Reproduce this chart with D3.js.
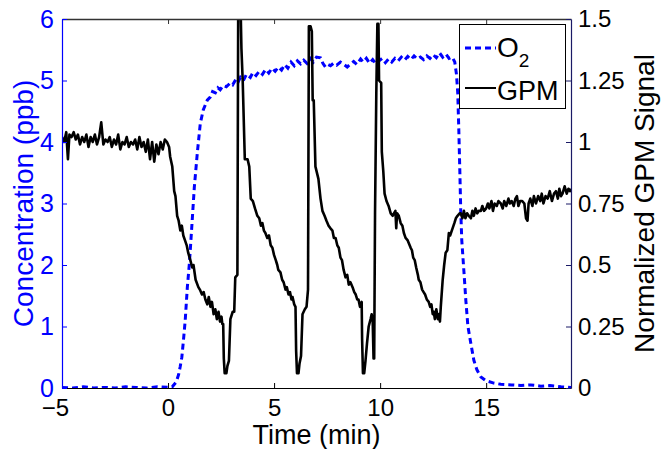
<!DOCTYPE html>
<html><head><meta charset="utf-8">
<script src="https://cdn.jsdelivr.net/npm/d3@7/dist/d3.min.js"></script>
<style>body{margin:0;background:#fff}svg{display:block}text{font-family:"Liberation Sans",Arial,Helvetica,sans-serif}</style>
</head><body>
<script>
// ---- data ----
const xTicks = [-5, 0, 5, 10, 15];
const yLeftTicks = [0, 1, 2, 3, 4, 5, 6];
const yRightTicks = [0, 0.25, 0.5, 0.75, 1, 1.25, 1.5];
const yRightLabels = ["0", "0.25", "0.5", "0.75", "1", "1.25", "1.5"];

// O2 concentration (ppb), left axis
const o2Time = [-5,-4.5,-4,-3.5,-3,-2.5,-2,-1.5,-1,-0.5,0,0.2,0.39,0.5,0.57,0.65,0.72,0.81,0.91,1.0,1.05,1.14,1.24,1.38,1.52,1.66,1.85,1.99,2.1,2.23,2.35,2.46,2.6,2.75,2.94,3.05,3.2,3.3,3.41,3.55,3.7,3.88,4.0,4.15,4.3,4.45,4.6,4.75,4.9,5.05,5.2,5.35,5.5,5.65,5.8,5.95,6.1,6.25,6.4,6.55,6.7,6.85,7.0,7.19,7.3,7.42,7.55,7.66,7.8,7.95,8.13,8.3,8.45,8.61,8.75,8.9,9.08,9.2,9.35,9.5,9.65,9.8,9.95,10.1,10.25,10.4,10.55,10.7,10.85,11.0,11.15,11.3,11.45,11.6,11.75,11.9,12.05,12.2,12.35,12.5,12.65,12.8,12.95,13.1,13.25,13.4,13.52,13.6,13.66,13.71,13.76,13.8,13.85,13.95,14.04,14.14,14.28,14.42,14.56,14.75,14.98,15.36,15.69,16.2,16.64,17.1,17.58,18.0,18.53,19];
const o2Conc = [0.01,0.0,0.02,0.0,0.01,0.0,0.02,0.01,0.0,0.02,0.01,0.02,0.1,0.22,0.34,0.5,0.75,1.1,1.64,2.0,2.25,2.73,3.27,3.82,4.3,4.52,4.68,4.73,4.82,4.8,4.88,4.85,4.92,4.9,4.96,4.93,5.02,4.97,5.05,5.0,5.1,5.05,5.13,5.08,5.15,5.1,5.18,5.12,5.2,5.15,5.22,5.17,5.26,5.2,5.3,5.24,5.32,5.27,5.33,5.28,5.36,5.3,5.38,5.37,5.28,5.22,5.26,5.24,5.28,5.25,5.3,5.26,5.22,5.27,5.31,5.26,5.35,5.3,5.36,5.28,5.34,5.27,5.32,5.36,5.29,5.35,5.3,5.36,5.32,5.38,5.33,5.39,5.34,5.4,5.35,5.38,5.34,5.4,5.36,5.42,5.37,5.45,5.38,5.43,5.36,5.38,5.3,5.1,4.8,4.2,3.5,2.9,2.4,1.9,1.43,1.0,0.72,0.45,0.3,0.18,0.12,0.08,0.06,0.05,0.04,0.05,0.03,0.04,0.02,0.01];

// GPM normalized signal, right axis
const gpmTime = [-5.0,-4.9,-4.8,-4.72,-4.65,-4.55,-4.45,-4.35,-4.25,-4.15,-4.05,-3.95,-3.85,-3.75,-3.65,-3.55,-3.45,-3.35,-3.25,-3.15,-3.05,-2.95,-2.85,-2.75,-2.65,-2.55,-2.45,-2.35,-2.25,-2.15,-2.05,-1.95,-1.85,-1.75,-1.65,-1.55,-1.45,-1.35,-1.25,-1.15,-1.05,-0.95,-0.85,-0.75,-0.65,-0.55,-0.45,-0.35,-0.25,-0.15,-0.05,0.05,
0.1,0.2,0.29,0.35,0.43,0.5,0.58,0.65,0.72,0.8,0.88,0.95,1.05,1.14,1.2,1.3,1.43,1.5,1.6,1.68,1.76,1.85,1.92,2.0,2.07,2.15,2.23,2.3,2.38,2.45,2.52,2.56,2.6,2.63,2.67,2.75,2.8,2.87,2.94,3.05,3.12,3.17,3.27,3.31,3.41,3.46,3.52,3.62,3.75,3.83,3.9,4.0,4.1,4.21,4.3,4.38,4.45,4.52,4.59,4.68,4.76,4.84,4.92,5.0,5.08,5.15,5.2,5.3,5.38,5.45,5.54,5.6,5.68,5.75,5.82,5.87,5.95,6.01,6.04,6.08,6.15,6.2,6.27,6.34,6.45,6.53,6.6,6.64,6.72,6.78,6.82,6.87,6.95,7.09,7.19,7.28,7.38,7.47,7.57,7.65,7.75,7.82,7.9,7.98,8.05,8.13,8.2,8.28,8.37,8.45,8.52,8.6,8.7,8.78,8.85,8.92,8.98,9.05,9.13,9.15,9.19,9.25,9.31,9.38,9.46,9.55,9.6,9.65,9.69,9.72,9.76,9.82,9.87,9.92,9.95,10.05,10.08,10.15,10.21,10.3,10.4,10.5,10.59,10.65,10.72,10.76,10.8,10.88,10.97,11.05,11.12,11.2,11.3,11.44,11.5,11.56,11.63,11.7,11.78,11.82,11.9,11.98,12.05,12.12,12.2,12.29,12.36,12.42,12.48,12.53,12.58,12.65,12.72,12.78,12.82,12.86,12.95,13.02,13.09,13.17,13.24,13.3,13.42,13.5,13.57,13.65,13.75,13.8,13.88,13.95,14.02,14.1,14.18,14.28,14.35,14.42,14.5,14.58,14.65,14.75,14.82,14.9,15.0,15.08,15.15,15.25,15.32,15.4,15.5,15.58,15.69,15.78,15.85,15.95,16.05,16.12,16.2,16.3,16.38,16.45,16.52,16.6,16.7,16.8,16.88,16.95,17.0,17.08,17.18,17.25,17.35,17.45,17.55,17.62,17.7,17.8,17.9,18.0,18.1,18.2,18.29,18.38,18.45,18.53,18.6,18.7,18.8,18.88,18.95,19.0];
const gpmSignal = [1.02,1.0,1.04,0.93,1.03,1.02,1.04,1.01,1.03,0.99,1.02,1.0,1.03,0.98,1.02,1.0,1.03,0.99,1.02,1.08,0.99,1.01,1.0,1.02,0.98,1.01,0.99,1.03,0.97,1.0,0.99,1.02,0.98,1.0,0.99,1.01,0.97,1.02,0.98,1.0,0.96,1.01,0.93,1.0,0.92,0.99,0.95,1.0,0.97,1.01,1.0,0.98,
0.94,0.9,0.8,0.78,0.7,0.68,0.64,0.66,0.62,0.6,0.58,0.55,0.52,0.49,0.5,0.44,0.41,0.4,0.38,0.39,0.36,0.34,0.37,0.33,0.35,0.3,0.32,0.28,0.31,0.27,0.29,0.26,0.26,0.12,0.06,0.06,0.09,0.11,0.28,0.31,0.31,0.45,0.46,1.6,1.6,1.38,1.25,0.93,0.93,0.9,0.77,0.76,0.73,0.7,0.69,0.66,0.67,0.64,0.63,0.61,0.62,0.58,0.57,0.54,0.52,0.5,0.48,0.47,0.44,0.43,0.4,0.41,0.38,0.39,0.36,0.37,0.34,0.33,0.15,0.06,0.06,0.1,0.13,0.3,0.32,0.33,0.4,1.47,1.47,1.45,1.17,1.17,0.9,0.85,0.77,0.72,0.7,0.68,0.66,0.65,0.64,0.61,0.61,0.58,0.57,0.53,0.52,0.48,0.45,0.46,0.42,0.43,0.41,0.39,0.38,0.36,0.36,0.33,0.35,0.2,0.06,0.06,0.11,0.18,0.25,0.28,0.3,0.27,0.12,0.12,0.71,1.2,1.48,1.48,1.25,1.24,0.96,0.88,0.79,0.76,0.74,0.71,0.7,0.71,0.72,0.65,0.71,0.7,0.67,0.66,0.63,0.61,0.6,0.57,0.56,0.53,0.52,0.49,0.46,0.44,0.43,0.4,0.39,0.38,0.36,0.35,0.33,0.34,0.3,0.31,0.28,0.32,0.28,0.3,0.27,0.33,0.44,0.5,0.55,0.56,0.63,0.62,0.65,0.67,0.69,0.7,0.71,0.71,0.69,0.72,0.69,0.71,0.7,0.69,0.72,0.7,0.73,0.71,0.72,0.72,0.74,0.72,0.73,0.75,0.73,0.76,0.72,0.75,0.74,0.76,0.75,0.73,0.76,0.74,0.77,0.75,0.76,0.74,0.77,0.78,0.74,0.76,0.76,0.75,0.69,0.68,0.75,0.77,0.74,0.78,0.75,0.78,0.76,0.79,0.75,0.78,0.77,0.8,0.76,0.79,0.8,0.77,0.81,0.78,0.79,0.82,0.79,0.81,0.8,0.81];

const seriesNames = ["O", "GPM"];

// ---- layout ----
const W = 663, H = 449;
const L = 62, R = 571, T = 19, B = 388;

const svg = d3.select("body").append("svg").attr("width", W).attr("height", H);

const x = d3.scaleLinear().domain([-5, 19]).range([L, R]);
const yL = d3.scaleLinear().domain([0, 6]).range([B, T]);
const yR = d3.scaleLinear().domain([0, 1.5]).range([B, T]);

svg.append("defs").append("clipPath").attr("id", "clip")
  .append("rect").attr("x", L).attr("y", T).attr("width", R - L).attr("height", B - T);

const plot = svg.append("g").attr("clip-path", "url(#clip)");

const o2Data = o2Time.map((t, i) => [t, o2Conc[i]]);
const gpmData = gpmTime.map((t, i) => [t, gpmSignal[i]]);

plot.append("path").datum(o2Data)
  .attr("d", d3.line().x(d => x(d[0])).y(d => yL(d[1])))
  .attr("fill", "none").attr("stroke", "#0000ff").attr("stroke-width", 3)
  .attr("stroke-dasharray", "6,4");

plot.append("path").datum(gpmData)
  .attr("d", d3.line().x(d => x(d[0])).y(d => yR(d[1])))
  .attr("fill", "none").attr("stroke", "#000").attr("stroke-width", 2.6)
  .attr("stroke-linejoin", "round");

// ---- axes ----
const tickFont = "24px";
// bottom
const gx = svg.append("g").attr("transform", `translate(0,${B})`)
  .call(d3.axisBottom(x).tickValues(xTicks).tickSizeInner(-5).tickSizeOuter(0).tickPadding(11)
    .tickFormat(d => d < 0 ? "\u2212" + Math.abs(d) : String(d)));
gx.select(".domain").attr("stroke", "#000").attr("stroke-width", 1.2);
gx.selectAll(".tick line").attr("stroke", "#000");
gx.selectAll("text").attr("font-size", tickFont).attr("fill", "#000").attr("font-family", "Liberation Sans, Arial, sans-serif");
// negative labels: minus sign hangs left of the centred digit (as in the original)
gx.selectAll(".tick text").filter(d => d < 0).attr("text-anchor", "end").attr("x", 6.7);

// top
const gt = svg.append("g").attr("transform", `translate(0,${T})`)
  .call(d3.axisTop(x).tickValues(xTicks).tickSizeInner(-5).tickSizeOuter(0).tickFormat(""));
gt.select(".domain").attr("stroke", "#333").attr("stroke-width", 1.5);
gt.selectAll(".tick line").attr("stroke", "#333");

// left
const gl = svg.append("g").attr("transform", `translate(${L},0)`)
  .call(d3.axisLeft(yL).tickValues(yLeftTicks).tickSizeInner(-5).tickSizeOuter(0).tickPadding(8)
    .tickFormat(d3.format("d")));
gl.select(".domain").attr("stroke", "#0000ff").attr("stroke-width", 1.2);
gl.selectAll(".tick line").attr("stroke", "#0000ff");
gl.selectAll("text").attr("font-size", "25px").attr("fill", "#0000ff").attr("font-family", "Liberation Sans, Arial, sans-serif");

// right
const gr = svg.append("g").attr("transform", `translate(${R},0)`)
  .call(d3.axisRight(yR).tickValues(yRightTicks).tickSizeInner(-5).tickSizeOuter(0).tickPadding(7)
    .tickFormat((d, i) => yRightLabels[i]));
gr.select(".domain").attr("stroke", "#1a1a66").attr("stroke-width", 1.2);
gr.selectAll(".tick line").attr("stroke", "#1a1a66");
gr.selectAll("text").attr("font-size", tickFont).attr("fill", "#000").attr("font-family", "Liberation Sans, Arial, sans-serif");

// ---- titles ----
svg.append("text").attr("x", (L + R) / 2).attr("y", 444).attr("text-anchor", "middle")
  .attr("font-size", "27px").attr("fill", "#000").text("Time (min)");
svg.append("text").attr("transform", `translate(33,${(T + B) / 2}) rotate(-90)`).attr("text-anchor", "middle")
  .attr("font-size", "28px").attr("fill", "#0000ff").text("Concentration (ppb)");
svg.append("text").attr("transform", `translate(654,${(T + B) / 2}) rotate(-90)`).attr("text-anchor", "middle")
  .attr("font-size", "28px").attr("fill", "#000").text("Normalized GPM Signal");

// ---- legend ----
const lg = svg.append("g");
lg.append("rect").attr("x", 459.5).attr("y", 24.5).attr("width", 106).attr("height", 84)
  .attr("fill", "#fff").attr("stroke", "#000").attr("stroke-width", 1);
lg.append("line").attr("x1", 465).attr("x2", 496).attr("y1", 48).attr("y2", 48)
  .attr("stroke", "#0000ff").attr("stroke-width", 3).attr("stroke-dasharray", "6,4");
const t1 = lg.append("text").attr("x", 497).attr("y", 57).attr("font-size", "28px").attr("fill", "#000");
t1.append("tspan").text(seriesNames[0]);
t1.append("tspan").attr("font-size", "19px").attr("dy", 10).text("2");
lg.append("line").attr("x1", 465).attr("x2", 496).attr("y1", 88).attr("y2", 88)
  .attr("stroke", "#000").attr("stroke-width", 2);
lg.append("text").attr("x", 497).attr("y", 100).attr("font-size", "27px").attr("fill", "#000").text(seriesNames[1]);
</script>
</body></html>
